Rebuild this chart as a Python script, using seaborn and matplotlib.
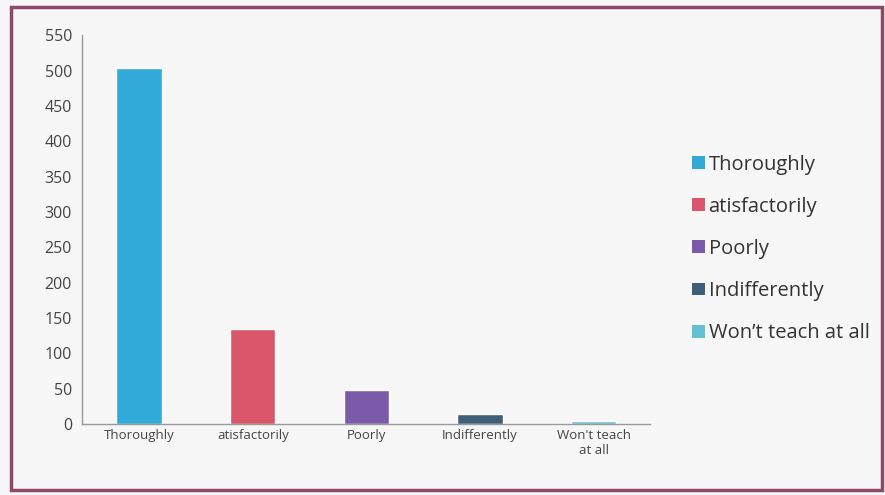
import matplotlib
matplotlib.use("Agg")
import matplotlib.pyplot as plt
import seaborn as sns
import pandas as pd
from matplotlib.patches import Rectangle, Patch

categories = ["Thoroughly", "atisfactorily", "Poorly", "Indifferently", "Won't teach at all"]
tick_labels = ["Thoroughly", "atisfactorily", "Poorly", "Indifferently", "Won't teach\nat all"]
legend_labels = ["Thoroughly", "atisfactorily", "Poorly", "Indifferently", "Won\u2019t teach at all"]
counts = [503, 135, 48, 15, 5]
colors = ["#31a9d9", "#d9566b", "#7b5ba9", "#3f5f78", "#62c2d3"]

df = pd.DataFrame({"category": categories, "count": counts})

sns.set_style("white")
plt.rcParams["font.family"] = ["Open Sans", "DejaVu Sans"]

fig = plt.figure(figsize=(8.85, 4.95), dpi=100)
fig.patch.set_facecolor("#f7f7f7")
ax = fig.add_axes([0.093, 0.143, 0.642, 0.786])
ax.set_facecolor("#f7f7f7")

sns.barplot(data=df, x="category", y="count", hue="category",
            palette=colors, order=categories, width=0.4, saturation=1,
            legend=False, ax=ax)

ax.set_ylim(0, 550)
ax.set_yticks(range(0, 551, 50))
ax.set_xlim(-0.5, 4.5)
ax.set_xticks(range(5))
ax.set_xticklabels(tick_labels, fontsize=9.5, color="#444444")
ax.tick_params(axis="y", labelsize=11.5, colors="#444444", length=4, color="#999999")
ax.tick_params(axis="x", length=0)
ax.set_xticks([i + 0.5 for i in range(-1, 5)], minor=True)
ax.tick_params(axis="x", which="minor", length=4, color="#999999")
ax.set_xlabel("")
ax.set_ylabel("")
for s in ["top", "right"]:
    ax.spines[s].set_visible(False)
for s in ["left", "bottom"]:
    ax.spines[s].set_color("#999999")
    ax.spines[s].set_linewidth(1)

handles = [Patch(facecolor=c, edgecolor="none") for c in colors]
fig.legend(handles, legend_labels, loc="center left",
           bbox_to_anchor=(0.762, 0.497), frameon=False,
           fontsize=14.5, labelspacing=1.1, handlelength=0.6,
           handleheight=0.6, handletextpad=0.2, labelcolor="#333333")

fig.add_artist(Rectangle((0.012, 0.01), 0.985, 0.975, transform=fig.transFigure,
                         fill=False, edgecolor="#8c4a66", linewidth=2.5))

fig.savefig("out.png", dpi=100, facecolor=fig.get_facecolor())
